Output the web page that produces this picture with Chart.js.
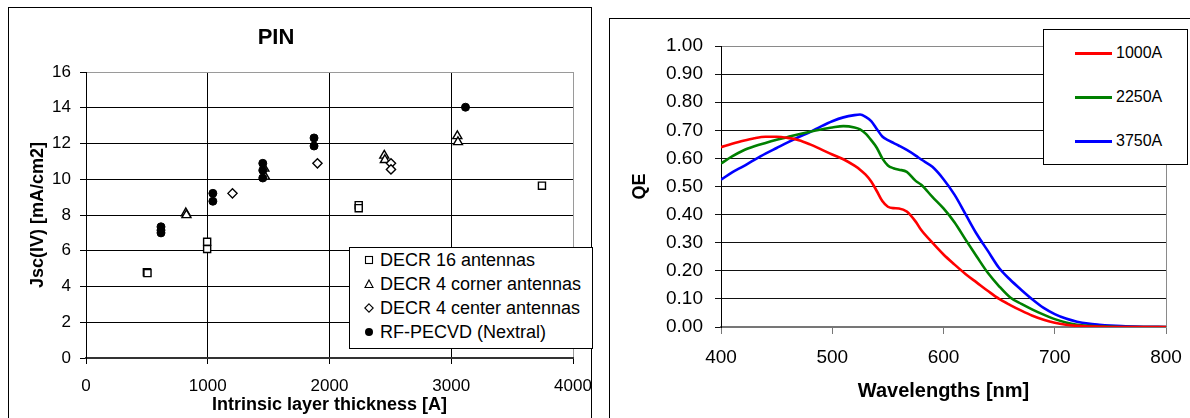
<!DOCTYPE html>
<html>
<head>
<meta charset="utf-8">
<script src="https://cdn.jsdelivr.net/npm/chart.js@4.4.0/dist/chart.umd.min.js"></script>
<style>
  body { margin: 0; background: #fff; font-family: 'Liberation Sans', Arial, sans-serif; }
  #page { position: relative; width: 1190px; height: 418px; overflow: hidden; }
  .frame { position: absolute; border: 1.5px solid #000; box-sizing: border-box; }
  canvas { position: absolute; top: 0; }
  .legend { position: absolute; border: 1.5px solid #000; background: #fff; box-sizing: border-box; }
  .row { position: absolute; left: 0; right: 0; white-space: nowrap; color: #000; }
  .row svg, .row .swatch { position: absolute; }
  .row span { position: absolute; }
</style>
</head>
<body>
<div id="page">
  <div class="frame" style="left:8px; top:7px; width:584px; height:430px;"></div>
  <div class="frame" style="left:609px; top:18px; width:600px; height:430px;"></div>
  <canvas id="pinChart" width="600" height="418" style="left:0"></canvas>
  <canvas id="qeChart" width="590" height="418" style="left:600px"></canvas>
  <div id="pinLegend" class="legend" style="left:349px; top:247px; width:244px; height:102px;"></div>
  <div id="qeLegend" class="legend" style="left:1043px; top:29px; width:145px; height:136px;"></div>
</div>
<script>
// left chart: Jsc(IV) vs intrinsic layer thickness
const pinLabels = ['DECR 16 antennas', 'DECR 4 corner antennas', 'DECR 4 center antennas', 'RF-PECVD (Nextral)'];

const decr16X = [500, 505, 995, 995, 2240, 2240, 3745];
const decr16Y = [4.8, 4.75, 6.5, 6.1, 8.55, 8.38, 9.64];

const corner4X = [820, 825, 1465, 1470, 2450, 2455, 3050, 3055];
const corner4Y = [8.1, 8.0, 10.6, 10.15, 11.33, 11.08, 12.42, 12.08];

const center4X = [1203, 1901, 2505, 2505];
const center4Y = [9.21, 10.89, 10.89, 10.55];

const rfX = [616, 616, 616, 1042, 1042, 1452, 1452, 1452, 1873, 1873, 3117];
const rfY = [7.34, 7.15, 7.0, 9.21, 8.77, 10.89, 10.5, 10.07, 12.31, 11.86, 14.03];

// right chart: QE vs wavelength
const wavelengths = [400, 410, 420, 430, 440, 450, 460, 470, 480, 490, 500, 510, 520,
  525, 530, 535, 540, 545, 550, 555, 560,
  567, 575, 580,
  590, 600, 610, 620, 630, 640, 650, 660, 670, 680, 690, 700, 710, 720, 730, 740, 750, 760,
  780, 800];
const qe1000 = [0.640, 0.652, 0.663, 0.672, 0.677, 0.677, 0.673, 0.665, 0.650, 0.632, 0.614, 0.597, 0.574,
  0.560, 0.542, 0.518, 0.484, 0.448, 0.428, 0.423, 0.422,
  0.411, 0.375, 0.345,
  0.300, 0.258, 0.222, 0.188, 0.158, 0.128, 0.100, 0.078, 0.058, 0.040, 0.026, 0.015, 0.008, 0.004, 0.002, 0.001, 0, 0,
  0, 0];
const qe2250 = [0.582, 0.607, 0.628, 0.643, 0.655, 0.666, 0.676, 0.686, 0.695, 0.703, 0.710, 0.715, 0.710,
  0.703, 0.688, 0.665, 0.638, 0.600, 0.575, 0.565, 0.560,
  0.552, 0.520, 0.506,
  0.463, 0.422, 0.372, 0.310, 0.250, 0.192, 0.145, 0.105, 0.082, 0.062, 0.044, 0.028, 0.016, 0.008, 0.004, 0.002, 0.001, 0,
  0, 0];
const qe3750 = [0.524, 0.550, 0.572, 0.595, 0.617, 0.637, 0.657, 0.676, 0.694, 0.714, 0.732, 0.746, 0.754,
  0.756, 0.748, 0.733, 0.705, 0.678, 0.665, 0.655, 0.645,
  0.630, 0.610, 0.596,
  0.570, 0.526, 0.470, 0.400, 0.330, 0.270, 0.210, 0.168, 0.132, 0.098, 0.068, 0.046, 0.030, 0.019, 0.012, 0.008, 0.005, 0.003,
  0.001, 0];
const qeLabels = ['1000A', '2250A', '3750A'];
const qeColors = ['#ff0000', '#008000', '#0000ff'];

Chart.defaults.font.family = "'Liberation Sans', Arial, sans-serif";
Chart.defaults.color = '#000';

function zip(xs, ys) {
    return xs.map((x, i) => ({ x: x, y: ys[i] }));
}

// keep the plot edges where the reference has them (no extra room for end labels)
function fixX(height) {
    return s => {
        s.height = height;
        s.paddingLeft = 0;
        s.paddingRight = 0;
    };
}

const pinTitle = {
    id: 'pinTitle',
    afterDraw(chart) {
        const ctx = chart.ctx;
        ctx.save();
        ctx.font = "bold 22px 'Liberation Sans', Arial, sans-serif";
        ctx.fillStyle = '#000';
        ctx.textAlign = 'center';
        ctx.textBaseline = 'middle';
        ctx.fillText('PIN', 276, 38);
        ctx.restore();
    }
};

const marker = { backgroundColor: '#fff', borderColor: '#000', borderWidth: 1.4 };

const pinChart = new Chart(document.getElementById('pinChart'), {
    type: 'scatter',
    data: {
        datasets: [
            { label: pinLabels[0], data: zip(decr16X, decr16Y), pointStyle: 'rect', pointRadius: 5, ...marker, order: 4 },
            { label: pinLabels[1], data: zip(corner4X, corner4Y), pointStyle: 'triangle', pointRadius: 5.2, ...marker, order: 3 },
            { label: pinLabels[2], data: zip(center4X, center4Y), pointStyle: 'rectRot', pointRadius: 4.6, ...marker, order: 2 },
            { label: pinLabels[3], data: zip(rfX, rfY), pointStyle: 'circle', pointRadius: 4, backgroundColor: '#000', borderColor: '#000', borderWidth: 1, order: 1 }
        ]
    },
    options: {
        responsive: false,
        animation: false,
        events: [],
        layout: { padding: { top: 72, right: 27, left: 0, bottom: 0 } },
        plugins: { legend: { display: false }, tooltip: { enabled: false } },
        scales: {
            x: {
                type: 'linear', min: 0, max: 4000,
                ticks: { stepSize: 1000, padding: 12, maxRotation: 0, font: { size: 17 }, callback: v => String(v) },
                grid: { color: c => c.tick.value === 4000 ? '#9a9a9a' : '#000', tickColor: '#000', tickLength: 6 },
                border: { color: '#333', width: 2 },
                title: { display: true, text: 'Intrinsic layer thickness [A]', font: { size: 18, weight: 'bold' }, padding: { top: 0, bottom: 2 } },
                afterFit: fixX(60)
            },
            y: {
                min: 0, max: 16,
                ticks: { stepSize: 2, padding: 9, font: { size: 17 } },
                grid: { color: c => c.tick.value === 16 ? '#9a9a9a' : '#000', tickColor: '#000', tickLength: 6 },
                border: { color: '#000', width: 1 },
                title: { display: true, text: 'Jsc(IV) [mA/cm2]', font: { size: 18, weight: 'bold' }, padding: { top: 27, bottom: 0 } },
                afterFit: s => { s.width = 86; }
            }
        }
    },
    plugins: [pinTitle]
});

const qeChart = new Chart(document.getElementById('qeChart'), {
    type: 'line',
    data: {
        datasets: [qe1000, qe2250, qe3750].map((vals, i) => ({
            label: qeLabels[i],
            data: zip(wavelengths, vals),
            borderColor: qeColors[i],
            backgroundColor: qeColors[i],
            borderWidth: 2.6,
            pointRadius: 0,
            cubicInterpolationMode: 'monotone',
            fill: false
        }))
    },
    options: {
        responsive: false,
        animation: false,
        events: [],
        layout: { padding: { top: 46, right: 24, left: 0, bottom: 0 } },
        plugins: { legend: { display: false }, tooltip: { enabled: false } },
        scales: {
            x: {
                type: 'linear', min: 400, max: 800,
                ticks: { stepSize: 100, padding: 12, maxRotation: 0, font: { size: 19 }, callback: v => String(v) },
                grid: { color: c => c.tick.value === 800 ? '#8a8a8a' : 'rgba(0,0,0,0)', tickColor: '#777', tickLength: 7 },
                border: { color: '#777', width: 1.5 },
                title: { display: true, text: 'Wavelengths [nm]', font: { size: 20, weight: 'bold' }, padding: { top: 0, bottom: 15 } },
                afterFit: fixX(91)
            },
            y: {
                min: 0, max: 1,
                ticks: { stepSize: 0.1, padding: 12, font: { size: 19 }, callback: v => v.toFixed(2) },
                grid: { color: c => Math.abs(c.tick.value - 1) < 1e-6 ? '#8a8a8a' : (c.tick.value === 0 ? '#777' : '#111'), tickColor: '#111', tickLength: 6 },
                border: { color: '#000', width: 1 },
                title: { display: true, text: 'QE', font: { size: 18, weight: 'bold' }, padding: { top: 29, bottom: 0 } },
                afterFit: s => { s.width = 121; }
            }
        }
    }
});

function markerSvg(style) {
    let shape = '';
    if (style === 'rect') shape = '<rect x="2.5" y="2.5" width="7" height="7" fill="#fff" stroke="#000" stroke-width="1.1"/>';
    if (style === 'triangle') shape = '<polygon points="6,2 10,9.5 2,9.5" fill="#fff" stroke="#000" stroke-width="1.1"/>';
    if (style === 'rectRot') shape = '<polygon points="6,1.8 10.2,6 6,10.2 1.8,6" fill="#fff" stroke="#000" stroke-width="1.1"/>';
    if (style === 'circle') shape = '<circle cx="6" cy="6" r="4" fill="#000"/>';
    return '<svg width="12" height="12" style="left:13px; top:5px">' + shape + '</svg>';
}

function buildPinLegend(chart) {
    const box = document.getElementById('pinLegend');
    box.innerHTML = '';
    chart.data.datasets.forEach((ds, i) => {
        const row = document.createElement('div');
        row.className = 'row';
        row.style.top = (i * 24 + 1) + 'px';
        row.style.height = '22px';
        row.style.lineHeight = '22px';
        row.style.fontSize = '18px';
        row.innerHTML = markerSvg(ds.pointStyle) + '<span style="left:30px">' + ds.label + '</span>';
        box.appendChild(row);
    });
}

function buildQeLegend(chart) {
    const box = document.getElementById('qeLegend');
    box.innerHTML = '';
    chart.data.datasets.forEach((ds, i) => {
        const row = document.createElement('div');
        row.className = 'row';
        row.style.top = (i * 44 + 12) + 'px';
        row.style.height = '22px';
        row.style.lineHeight = '22px';
        row.style.fontSize = '16px';
        row.innerHTML = '<div class="swatch" style="left:31px; top:10px; width:37px; height:3px; background:' + ds.borderColor + '"></div>' +
            '<span style="left:72px">' + ds.label + '</span>';
        box.appendChild(row);
    });
}

buildPinLegend(pinChart);
buildQeLegend(qeChart);
</script>
</body>
</html>
